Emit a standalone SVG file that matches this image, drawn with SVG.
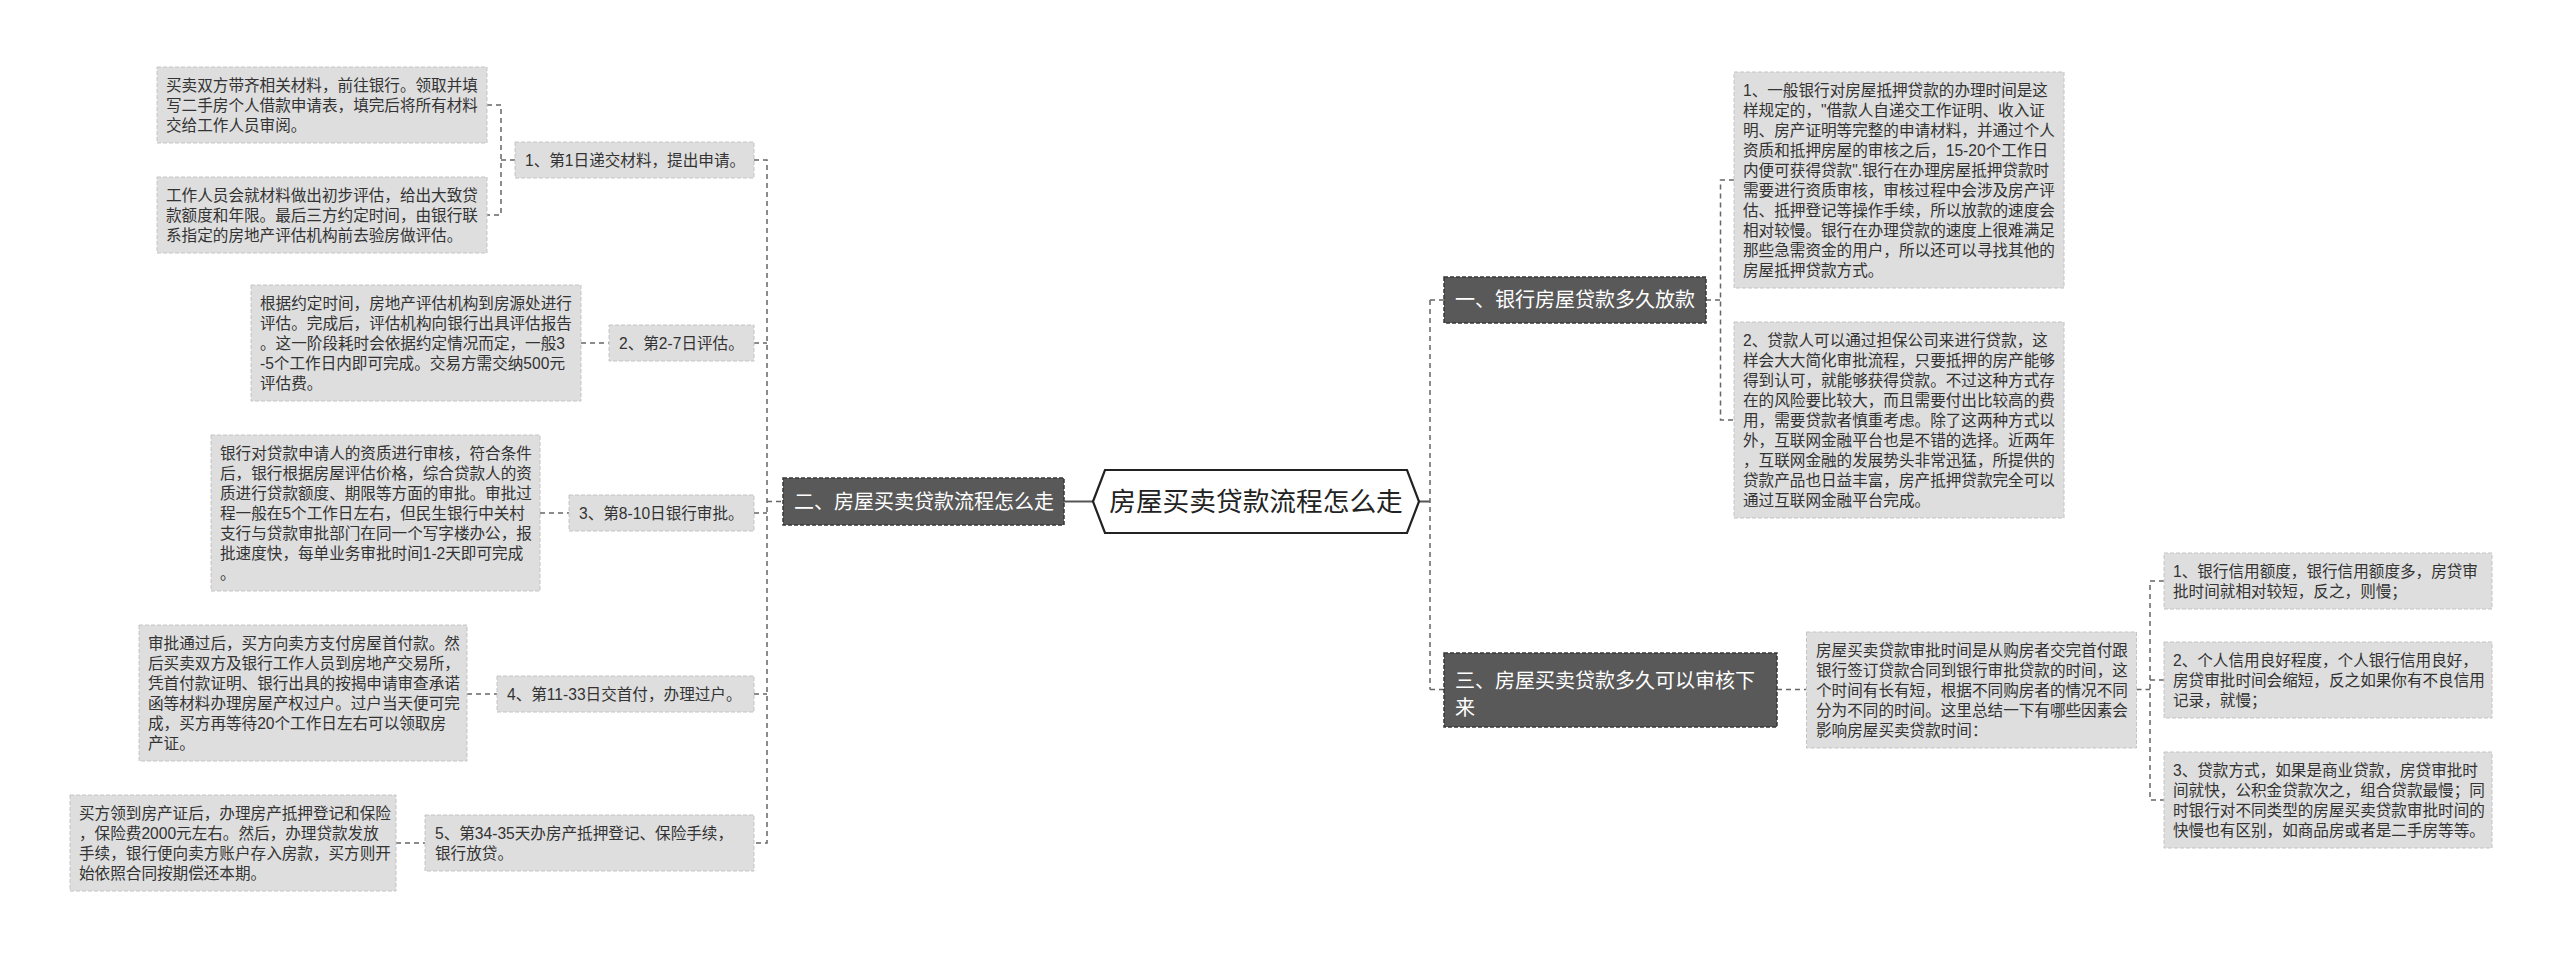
<svg xmlns="http://www.w3.org/2000/svg" width="2560" height="959" viewBox="0 0 2560 959">
<style>
text{font-family:"Liberation Sans","Noto Sans CJK SC",sans-serif;}
.leaf rect{fill:#dedede;stroke:#c4c4c4;stroke-width:1;stroke-dasharray:4 2;}
.leaf text{font-size:15.6px;fill:#333;}
.br rect{fill:#595959;stroke:#383838;stroke-width:1.5;stroke-dasharray:4 2;}
.br text{font-size:20px;fill:#fff;}
.dash{fill:none;stroke:#666;stroke-width:1.5;stroke-dasharray:5 4;}
.solid{fill:none;stroke:#555;stroke-width:2;}
</style>
<rect width="2560" height="959" fill="#fff"/>
<g id="connectors">
<path class="dash" d="M487,105H501V215H487M501,160H515"/>
<path class="dash" d="M754,160H767V843H754M754,343H767M754,513H767M754,694H767M767,501.5H783"/>
<path class="dash" d="M581,343H609M540,513H569M467,694H497M396,843H425"/>
<path class="solid" d="M1064,501.5H1093M1419,501.5H1430"/>
<path class="dash" d="M1430,300V689.5M1430,300H1444M1430,689.5H1444"/>
<path class="dash" d="M1706,300H1720.5M1734,180H1720.5V420H1734"/>
<path class="dash" d="M1777,689.5H1806.5"/>
<path class="dash" d="M2136.5,689.5H2150M2164,581H2150V800H2164M2150,680H2164"/>
</g>
<g id="root">
<polygon points="1093,501.5 1105,470 1407,470 1419,501.5 1407,533 1105,533" fill="#fff" stroke="#222" stroke-width="2.2"/>
<text x="1256" y="511" text-anchor="middle" font-size="26.7" fill="#222">房屋买卖贷款流程怎么走</text>
</g>
<g id="b2" class="br"><rect x="783" y="478" width="281" height="47"/><text x="794" y="508.5">二、房屋买卖贷款流程怎么走</text></g>
<g id="b1" class="br"><rect x="1444" y="277" width="262" height="46"/><text x="1455" y="307">一、银行房屋贷款多久放款</text></g>
<g id="b3" class="br"><rect x="1444" y="653" width="333" height="74"/><text x="1455" y="688">三、房屋买卖贷款多久可以审核下<tspan x="1455" y="714.5">来</tspan></text></g>
<g id="c1" class="leaf"><rect x="515" y="142" width="239" height="36"/><text x="525" y="165.5">1、第1日递交材料，提出申请。</text></g>
<g id="c2" class="leaf"><rect x="609" y="325" width="145" height="36"/><text x="619" y="348.5">2、第2-7日评估。</text></g>
<g id="c3" class="leaf"><rect x="569" y="495" width="185" height="36"/><text x="579" y="518.5">3、第8-10日银行审批。</text></g>
<g id="c4" class="leaf"><rect x="497" y="676" width="257" height="36"/><text x="507" y="699.5">4、第11-33日交首付，办理过户。</text></g>
<g id="c5" class="leaf"><rect x="425" y="815" width="329" height="56"/><text x="435" y="839">5、第34-35天办房产抵押登记、保险手续，<tspan x="435" y="859">银行放贷。</tspan></text></g>
<g id="l1a" class="leaf"><rect x="157" y="67" width="330" height="76"/><text x="166" y="91">买卖双方带齐相关材料，前往银行。领取并填<tspan x="166" y="111">写二手房个人借款申请表，填完后将所有材料</tspan><tspan x="166" y="131">交给工作人员审阅。</tspan></text></g>
<g id="l1b" class="leaf"><rect x="157" y="177" width="330" height="76"/><text x="166" y="201">工作人员会就材料做出初步评估，给出大致贷<tspan x="166" y="221">款额度和年限。最后三方约定时间，由银行联</tspan><tspan x="166" y="241">系指定的房地产评估机构前去验房做评估。</tspan></text></g>
<g id="l2" class="leaf"><rect x="251" y="285" width="330" height="116"/><text x="260" y="309">根据约定时间，房地产评估机构到房源处进行<tspan x="260" y="329">评估。完成后，评估机构向银行出具评估报告</tspan><tspan x="260" y="349">。这一阶段耗时会依据约定情况而定，一般3</tspan><tspan x="260" y="369">-5个工作日内即可完成。交易方需交纳500元</tspan><tspan x="260" y="389">评估费。</tspan></text></g>
<g id="l3" class="leaf"><rect x="211" y="435" width="329" height="156"/><text x="220" y="459">银行对贷款申请人的资质进行审核，符合条件<tspan x="220" y="479">后，银行根据房屋评估价格，综合贷款人的资</tspan><tspan x="220" y="499">质进行贷款额度、期限等方面的审批。审批过</tspan><tspan x="220" y="519">程一般在5个工作日左右，但民生银行中关村</tspan><tspan x="220" y="539">支行与贷款审批部门在同一个写字楼办公，报</tspan><tspan x="220" y="559">批速度快，每单业务审批时间1-2天即可完成</tspan><tspan x="220" y="579">。</tspan></text></g>
<g id="l4" class="leaf"><rect x="139" y="625" width="328" height="136"/><text x="148" y="649">审批通过后，买方向卖方支付房屋首付款。然<tspan x="148" y="669">后买卖双方及银行工作人员到房地产交易所，</tspan><tspan x="148" y="689">凭首付款证明、银行出具的按揭申请审查承诺</tspan><tspan x="148" y="709">函等材料办理房屋产权过户。过户当天便可完</tspan><tspan x="148" y="729">成，买方再等待20个工作日左右可以领取房</tspan><tspan x="148" y="749">产证。</tspan></text></g>
<g id="l5" class="leaf"><rect x="70" y="795" width="326" height="96"/><text x="79" y="819">买方领到房产证后，办理房产抵押登记和保险<tspan x="79" y="839">，保险费2000元左右。然后，办理贷款发放</tspan><tspan x="79" y="859">手续，银行便向卖方账户存入房款，买方则开</tspan><tspan x="79" y="879">始依照合同按期偿还本期。</tspan></text></g>
<g id="r1a" class="leaf"><rect x="1734" y="72" width="330" height="216"/><text x="1743" y="96">1、一般银行对房屋抵押贷款的办理时间是这<tspan x="1743" y="116">样规定的，"借款人自递交工作证明、收入证</tspan><tspan x="1743" y="136">明、房产证明等完整的申请材料，并通过个人</tspan><tspan x="1743" y="156">资质和抵押房屋的审核之后，15-20个工作日</tspan><tspan x="1743" y="176">内便可获得贷款".银行在办理房屋抵押贷款时</tspan><tspan x="1743" y="196">需要进行资质审核，审核过程中会涉及房产评</tspan><tspan x="1743" y="216">估、抵押登记等操作手续，所以放款的速度会</tspan><tspan x="1743" y="236">相对较慢。银行在办理贷款的速度上很难满足</tspan><tspan x="1743" y="256">那些急需资金的用户，所以还可以寻找其他的</tspan><tspan x="1743" y="276">房屋抵押贷款方式。</tspan></text></g>
<g id="r1b" class="leaf"><rect x="1734" y="322" width="330" height="196"/><text x="1743" y="346">2、贷款人可以通过担保公司来进行贷款，这<tspan x="1743" y="366">样会大大简化审批流程，只要抵押的房产能够</tspan><tspan x="1743" y="386">得到认可，就能够获得贷款。不过这种方式存</tspan><tspan x="1743" y="406">在的风险要比较大，而且需要付出比较高的费</tspan><tspan x="1743" y="426">用，需要贷款者慎重考虑。除了这两种方式以</tspan><tspan x="1743" y="446">外，互联网金融平台也是不错的选择。近两年</tspan><tspan x="1743" y="466">，互联网金融的发展势头非常迅猛，所提供的</tspan><tspan x="1743" y="486">贷款产品也日益丰富，房产抵押贷款完全可以</tspan><tspan x="1743" y="506">通过互联网金融平台完成。</tspan></text></g>
<g id="r3" class="leaf"><rect x="1806.5" y="632" width="330" height="116"/><text x="1816" y="656">房屋买卖贷款审批时间是从购房者交完首付跟<tspan x="1816" y="676">银行签订贷款合同到银行审批贷款的时间，这</tspan><tspan x="1816" y="696">个时间有长有短，根据不同购房者的情况不同</tspan><tspan x="1816" y="716">分为不同的时间。这里总结一下有哪些因素会</tspan><tspan x="1816" y="736">影响房屋买卖贷款时间：</tspan></text></g>
<g id="r3a" class="leaf"><rect x="2164" y="553" width="328" height="56"/><text x="2173" y="577">1、银行信用额度，银行信用额度多，房贷审<tspan x="2173" y="597">批时间就相对较短，反之，则慢；</tspan></text></g>
<g id="r3b" class="leaf"><rect x="2164" y="642" width="328" height="76"/><text x="2173" y="666">2、个人信用良好程度，个人银行信用良好，<tspan x="2173" y="686">房贷审批时间会缩短，反之如果你有不良信用</tspan><tspan x="2173" y="706">记录，就慢；</tspan></text></g>
<g id="r3c" class="leaf"><rect x="2164" y="752" width="328" height="96"/><text x="2173" y="776">3、贷款方式，如果是商业贷款，房贷审批时<tspan x="2173" y="796">间就快，公积金贷款次之，组合贷款最慢；同</tspan><tspan x="2173" y="816">时银行对不同类型的房屋买卖贷款审批时间的</tspan><tspan x="2173" y="836">快慢也有区别，如商品房或者是二手房等等。</tspan></text></g>
</svg>
